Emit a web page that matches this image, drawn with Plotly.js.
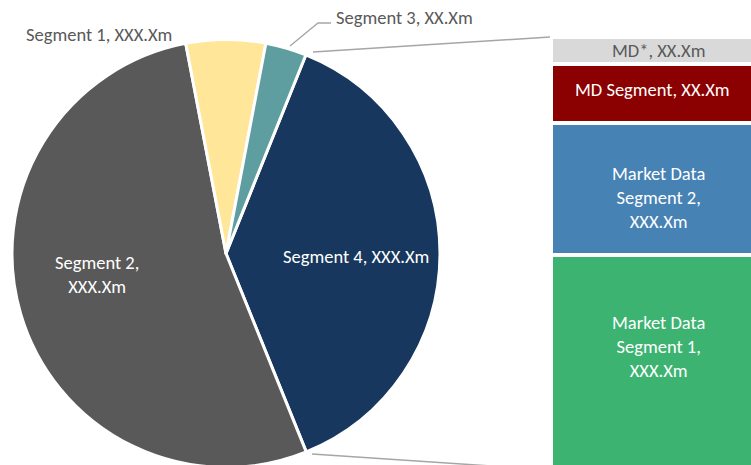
<!DOCTYPE html>
<html><head><meta charset="utf-8">
<script src="https://cdn.plot.ly/plotly-3.0.1.min.js"></script>
<style>html,body{margin:0;padding:0;background:#fff;overflow:hidden;}#chart{width:751px;height:470px;}</style>
</head><body><div id="chart"></div>
<script>
// Pie (first level)
const pieLabels = ['Segment 4', 'Segment 2', 'Segment 1', 'Segment 3'];
const pieValues = [37.8, 53.1, 6.0, 3.1];
const pieText = ['Segment 4, XXX.Xm', 'Segment 2,<br>XXX.Xm', 'Segment 1, XXX.Xm', 'Segment 3, XX.Xm'];
const pieColors = ['#17375E', '#595959', '#FFE699', '#5F9EA0'];
// Bar (breakdown of Segment 4), bottom to top
const barLabels = ['Market Data Segment 1', 'Market Data Segment 2', 'MD Segment', 'MD*'];
const barValues = [215, 132, 59, 27];
const barText = ['Market Data<br>Segment 1,<br>XXX.Xm', 'Market Data<br>Segment 2,<br>XXX.Xm', 'MD Segment, XX.Xm', 'MD*, XX.Xm'];
const barColors = ['#3CB371', '#4682B4', '#8B0000', '#D9D9D9'];
const barTextColors = ['#FFFFFF', '#FFFFFF', '#FFFFFF', '#595959'];

const W = 751, H = 470;
const px = x => x / W;
const py = y => 1 - y / H;
const FONT = 'Calibri, Carlito, Lato, sans-serif';
const FS = 18.5;

const traces = [{
  type: 'pie',
  labels: pieLabels,
  values: pieValues,
  sort: false,
  direction: 'clockwise',
  rotation: 21.9,
  marker: {colors: pieColors, line: {color: '#FFFFFF', width: 3}},
  textinfo: 'none',
  hoverinfo: 'label+percent',
  domain: {x: [px(12), px(440)], y: [py(467.5), py(39.5)]},
  showlegend: false
}];

barLabels.forEach((lab, i) => {
  traces.push({
    type: 'bar',
    name: lab,
    x: [0],
    y: [barValues[i]],
    width: [1],
    marker: {color: barColors[i], line: {color: '#FFFFFF', width: 4}},
    hoverinfo: 'name+y',
    xaxis: 'x', yaxis: 'y',
    showlegend: false
  });
});

const total = barValues.reduce((a, b) => a + b, 0);

const annotations = [];
// Pie labels
const pieLabelPos = [[356, 256], [97, 274], [99, 34], [404, 17]];
const pieLabelColors = ['#FFFFFF', '#FFFFFF', '#595959', '#595959'];
pieText.forEach((t, i) => {
  annotations.push({
    text: t, xref: 'paper', yref: 'paper',
    x: px(pieLabelPos[i][0]), y: py(pieLabelPos[i][1]),
    xanchor: 'center', yanchor: 'middle', showarrow: false,
    font: {family: FONT, size: FS, color: pieLabelColors[i]}
  });
});
// Bar labels
const barLabelPos = [[658, 346], [658, 197], [652, 89], [658, 50]];
barText.forEach((t, i) => {
  annotations.push({
    text: t, xref: 'paper', yref: 'paper',
    x: px(barLabelPos[i][0]), y: py(barLabelPos[i][1]),
    xanchor: 'center', yanchor: 'middle', showarrow: false,
    font: {family: FONT, size: FS, color: barTextColors[i]}
  });
});

const lineStyle = {color: '#A6A6A6', width: 1.5};
const shapes = [
  {type: 'line', xref: 'paper', yref: 'paper', x0: px(313), y0: py(52), x1: px(550), y1: py(37), line: lineStyle},
  {type: 'line', xref: 'paper', yref: 'paper', x0: px(312), y0: py(454), x1: px(553), y1: py(470), line: lineStyle},
  {type: 'path', xref: 'paper', yref: 'paper',
   path: `M ${px(290)} ${py(46)} L ${px(318)} ${py(23)} L ${px(331)} ${py(23)}`,
   line: {color: '#A6A6A6', width: 1.3}}
];

const layout = {
  width: W, height: H,
  margin: {l: 0, r: 0, t: 0, b: 0},
  paper_bgcolor: '#FFFFFF', plot_bgcolor: 'rgba(0,0,0,0)',
  barmode: 'stack',
  bargap: 0,
  font: {family: FONT, size: FS, color: '#595959'},
  xaxis: {domain: [px(551), 1], range: [-0.5, 0.46], visible: false, fixedrange: true},
  yaxis: {domain: [0, py(37)], range: [0, total], visible: false, fixedrange: true},
  annotations: annotations,
  shapes: shapes,
  showlegend: false
};

Plotly.newPlot('chart', traces, layout, {displayModeBar: false, staticPlot: true});
</script>
</body></html>
